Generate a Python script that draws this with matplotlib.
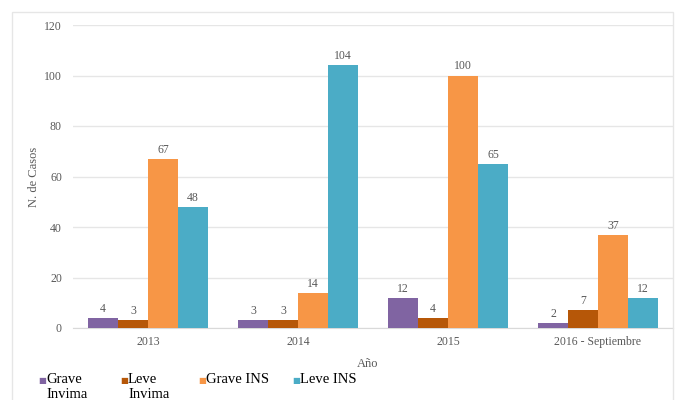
import matplotlib.pyplot as plt
import numpy as np

anios = ['2013', '2014', '2015', '2016 - Septiembre']
grave_invima = [4, 3, 12, 2]
leve_invima = [3, 3, 4, 7]
grave_ins = [67, 14, 100, 37]
leve_ins = [48, 104, 65, 12]

series = [grave_invima, leve_invima, grave_ins, leve_ins]
nombres = ['Grave\nInvima', 'Leve\nInvima', 'Grave INS', 'Leve INS']
colores = ['#8064A2', '#B65708', '#F79646', '#4BACC6']

plt.rcParams['font.family'] = ['Liberation Serif', 'DejaVu Serif']
gris = '#595959'

fig = plt.figure(figsize=(6.76, 4.0), dpi=100)
ax = fig.add_axes([73 / 676, 1 - 328 / 400, 600 / 676, 303 / 400])

x = np.arange(len(anios))
w = 0.2
for i, (vals, col) in enumerate(zip(series, colores)):
    pos = x + (i - 1.5) * w
    ax.bar(pos, vals, width=w, color=col, zorder=3)
    for p, v in zip(pos, vals):
        ax.text(p, v + 1.2, str(v), ha='center', va='bottom', fontsize=8.5, color=gris)

ax.set_xlim(-0.5, 3.5)
ax.set_ylim(0, 120)
ax.set_yticks(range(0, 121, 20))
ax.set_xticks(x)
ax.set_xticklabels(anios)
ax.tick_params(length=0, labelsize=8.5, labelcolor=gris)
ax.tick_params(axis='y', pad=8)
ax.tick_params(axis='x', pad=6)
ax.grid(axis='y', color='#E6E6E6', linewidth=1, zorder=0)
for s in ['top', 'right', 'left']:
    ax.spines[s].set_visible(False)
ax.spines['bottom'].set_color('#D9D9D9')
ax.set_ylabel('N. de Casos', fontsize=9, color=gris, labelpad=3)
fig.text(368 / 676, 1 - 364 / 400, 'Año', ha='center', va='center', fontsize=9, color=gris)

# marco del grafico
marco = plt.Rectangle((12 / 676, -0.1), 661 / 676, 1.07, transform=fig.transFigure,
                      fill=False, edgecolor='#E6E6E6', linewidth=1)
fig.patches.append(marco)

# leyenda manual
xs = [38, 120, 198, 292]
for xp, nom, col in zip(xs, nombres, colores):
    fig.text(xp / 676, 1 - 381 / 400, '■', color=col, fontsize=6, va='center', ha='left',
             family=['DejaVu Sans'])
    fig.text((xp + 8) / 676, 1 - 373 / 400, nom, color='black', fontsize=10.5, va='top', ha='left',
             linespacing=1.25)

fig.savefig('out.png', dpi=100)
